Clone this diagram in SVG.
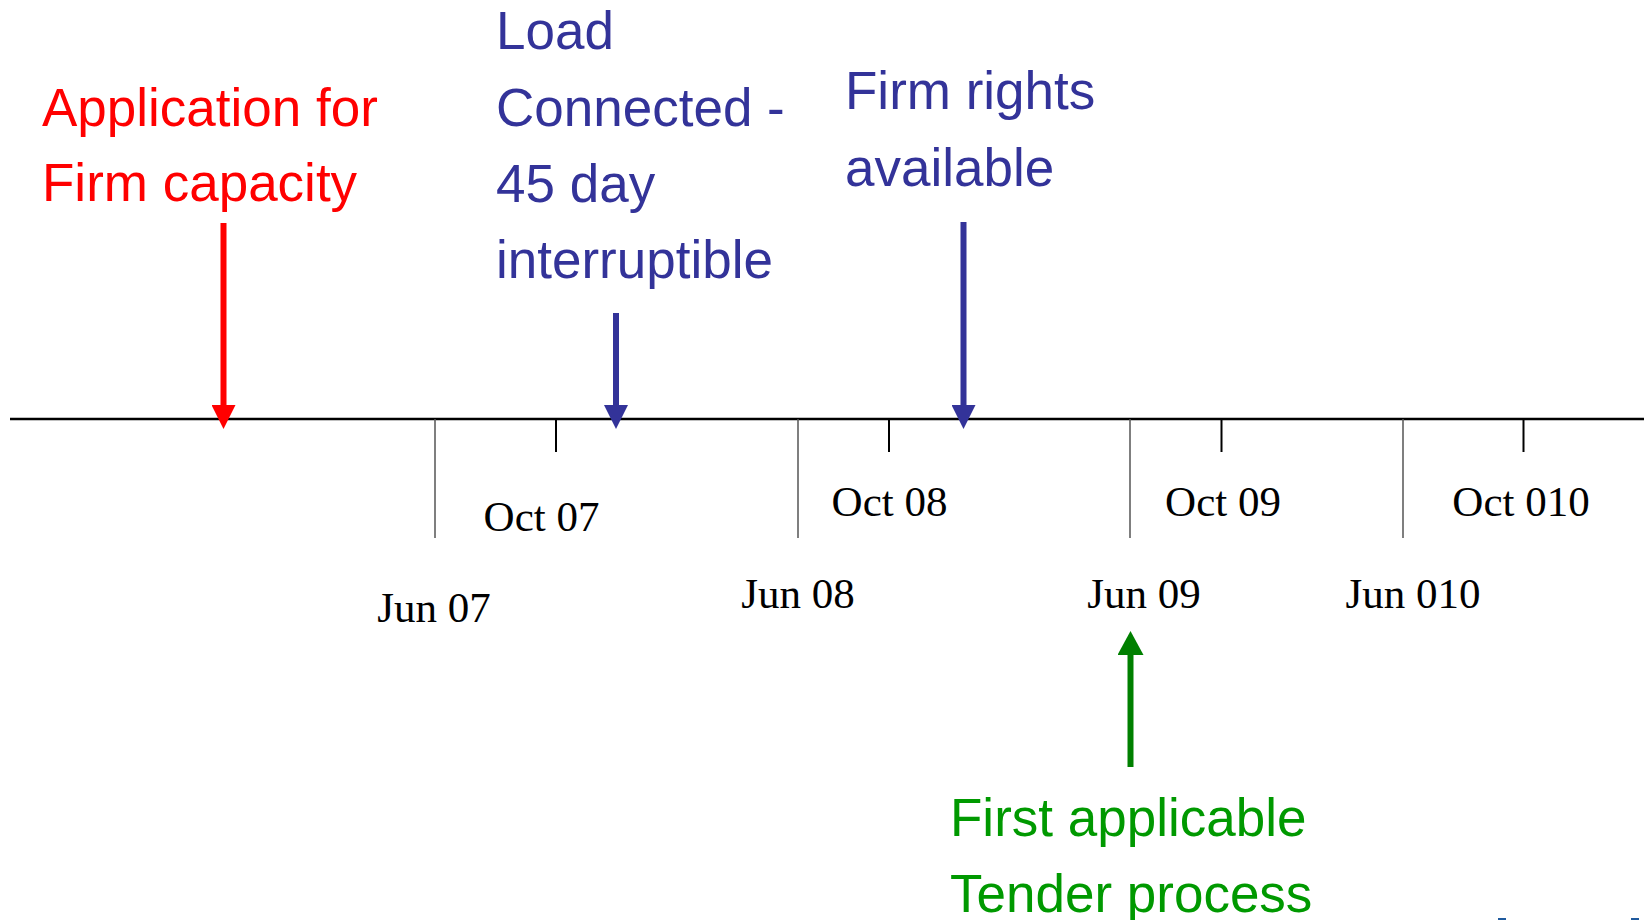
<svg xmlns="http://www.w3.org/2000/svg" width="1644" height="920" viewBox="0 0 1644 920">
<style>
.lbl{font-family:"Liberation Sans",Arial,sans-serif;font-size:53px}
.red{fill:#ff0000}
.blue{fill:#333399}
.green{fill:#009900}
.date{font-family:"Liberation Serif","Times New Roman",serif;font-size:43px;fill:#000;text-anchor:middle}
.axis{stroke:#000;stroke-width:2.5}
.long{stroke:#555;stroke-width:1.5}
.short{stroke:#000;stroke-width:2}
.arr{stroke-width:6;fill:none}
</style>
<defs>
<marker id="hr" markerUnits="userSpaceOnUse" markerWidth="24" markerHeight="24" refX="0" refY="12" orient="auto"><path d="M0,0 L24,12 L0,24 z" fill="#ff0000"/></marker>
<marker id="hb" markerUnits="userSpaceOnUse" markerWidth="24" markerHeight="24" refX="0" refY="12" orient="auto"><path d="M0,0 L24,12 L0,24 z" fill="#333399"/></marker>
<marker id="hg" markerUnits="userSpaceOnUse" markerWidth="24" markerHeight="26" refX="0" refY="13" orient="auto"><path d="M0,0 L24,13 L0,26 z" fill="#008000"/></marker>
</defs>
<rect width="1644" height="920" fill="#fff"/>
<g id="timeline">
<line class="axis" x1="10" y1="419" x2="1644" y2="419"/>
<line class="long" x1="435" y1="419" x2="435" y2="538"/>
<line class="short" x1="556" y1="419" x2="556" y2="452"/>
<line class="long" x1="798" y1="419" x2="798" y2="538"/>
<line class="short" x1="889" y1="419" x2="889" y2="452"/>
<line class="long" x1="1130" y1="419" x2="1130" y2="538"/>
<line class="short" x1="1221.5" y1="419" x2="1221.5" y2="452"/>
<line class="long" x1="1403" y1="419" x2="1403" y2="538"/>
<line class="short" x1="1523.5" y1="419" x2="1523.5" y2="452"/>
</g>
<g id="dates">
<text class="date" x="434" y="622">Jun 07</text>
<text class="date" x="541.5" y="531">Oct 07</text>
<text class="date" x="798" y="608">Jun 08</text>
<text class="date" x="889.5" y="516">Oct 08</text>
<text class="date" x="1144" y="608">Jun 09</text>
<text class="date" x="1223" y="516">Oct 09</text>
<text class="date" x="1413" y="608">Jun 010</text>
<text class="date" x="1521" y="516">Oct 010</text>
</g>
<g id="connectors">
<line class="arr" stroke="#ff0000" x1="223.5" y1="223" x2="223.5" y2="405" marker-end="url(#hr)"/>
<line class="arr" stroke="#333399" x1="616" y1="313" x2="616" y2="405" marker-end="url(#hb)"/>
<line class="arr" stroke="#333399" x1="963.5" y1="222" x2="963.5" y2="405" marker-end="url(#hb)"/>
<line class="arr" stroke="#008000" x1="1130.5" y1="767" x2="1130.5" y2="655" marker-end="url(#hg)"/>
</g>
<g id="application">
<text class="lbl red" x="42" y="126">Application for</text>
<text class="lbl red" x="42" y="201">Firm capacity</text>
</g>
<g id="load-connected">
<text class="lbl blue" x="496" y="49">Load</text>
<text class="lbl blue" x="496" y="126">Connected -</text>
<text class="lbl blue" x="496" y="202">45 day</text>
<text class="lbl blue" x="496" y="278">interruptible</text>
</g>
<g id="firm-rights">
<text class="lbl blue" x="845" y="109">Firm rights</text>
<text class="lbl blue" x="845" y="186">available</text>
</g>
<g id="first-tender">
<text class="lbl green" x="950" y="836">First applicable</text>
<text class="lbl green" x="950" y="912">Tender process</text>
</g>
<g id="edge-marks">
<rect x="1498" y="918" width="8" height="2" fill="#1f5a9e"/>
<rect x="1631" y="918" width="8" height="2" fill="#1f5a9e"/>
</g>
</svg>
